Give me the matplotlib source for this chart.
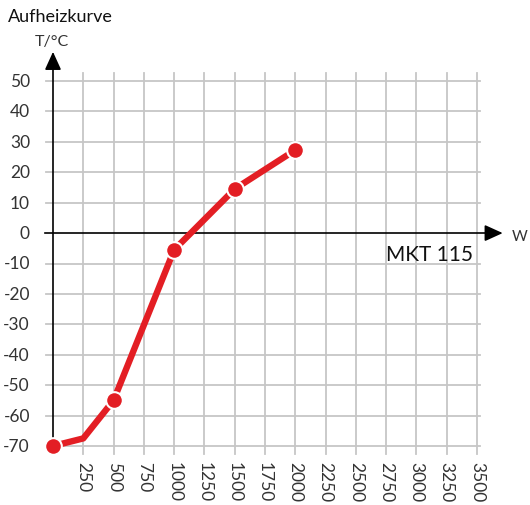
import matplotlib
matplotlib.use("Agg")
import matplotlib.pyplot as plt
import numpy as np

plt.rcParams['font.family'] = ['Lato', 'DejaVu Sans']

# Data
power_w = [0, 250, 500, 1000, 1500, 2000]
temp_c = [-70, -67.5, -55, -5.5, 14.5, 27.3]
marker_w = [0, 500, 1000, 1500, 2000]
marker_c = [-70, -55, -5.5, 14.5, 27.3]
x_ticks = [250, 500, 750, 1000, 1250, 1500, 1750, 2000, 2250, 2500, 2750, 3000, 3250, 3500]
x_labels = ["250", "500", "750", "1000", "1250", "1500", "1750", "2000", "2250", "2500", "2750", "3000", "3250", "3500"]
y_ticks = [50, 40, 30, 20, 10, 0, -10, -20, -30, -40, -50, -60, -70]
y_labels = ["50", "40", "30", "20", "10", "0", "-10", "-20", "-30", "-40", "-50", "-60", "-70"]
title = "Aufheizkurve"
y_title = "T/°C"
x_title = "W"
model = "MKT 115"

W, H = 530, 506
fig = plt.figure(figsize=(W / 100, H / 100), dpi=100)
# axes: x 0..3500 -> px 53..477 ; y -70..50 -> px 447..82
ax = fig.add_axes([53 / W, (H - 447) / H, 424 / W, 365 / H])
ax.set_xlim(0, 3500)
ax.set_ylim(-70, 50)
ax.axis('off')

grid_col = '#c6c6c6'
# horizontal grid
for y in y_ticks:
    if y == 0:
        continue
    ax.plot([-58, 3523], [y, y], color=grid_col, lw=1.3, clip_on=False, zorder=1)
# vertical grid
for x in x_ticks:
    ax.plot([x, x], [52.6, -72.6], color=grid_col, lw=1.3, clip_on=False, zorder=1)

# axes lines with arrows
ax.plot([-62, 3680], [0, 0], color='black', lw=1.2, clip_on=False, zorder=2)
ax.plot([0, 0], [-70, 57], color='black', lw=1.2, clip_on=False, zorder=2)
ax.annotate('', xy=(3735, 0), xytext=(3610, 0),
            arrowprops=dict(arrowstyle='-|>,head_length=1.1,head_width=0.5', color='black', lw=1.2),
            annotation_clip=False, zorder=3)
ax.annotate('', xy=(0, 60.5), xytext=(0, 54),
            arrowprops=dict(arrowstyle='-|>,head_length=1.1,head_width=0.5', color='black', lw=1.2),
            annotation_clip=False, zorder=3)

# data
ax.plot(power_w, temp_c, color='#e31e24', lw=4.6, solid_capstyle='round',
        solid_joinstyle='round', clip_on=False, zorder=4)
ax.plot(marker_w, marker_c, linestyle='none', marker='o', markersize=12,
        markerfacecolor='#e31e24', markeredgecolor='white', markeredgewidth=1.5,
        clip_on=False, zorder=5)

# tick labels
for y, lab in zip(y_ticks, y_labels):
    ax.text(-190, y, lab, ha='right', va='center', fontsize=12.5, color='#333333', clip_on=False)
for x, lab in zip(x_ticks, x_labels):
    ax.text(x, -74.8, lab, ha='center', va='top', rotation=-90, fontsize=12.5,
            color='#333333', clip_on=False)

# texts
fig.text(8 / W, 1 - 17 / H, title, ha='left', va='center', fontsize=13, color='#111111')
fig.text(52 / W, 1 - 42 / H, y_title, ha='center', va='center', fontsize=11.5, color='#333333')
fig.text(512 / W, 1 - 237 / H, x_title, ha='left', va='center', fontsize=11, color='#333333')
fig.text(430 / W, 1 - 255 / H, model, ha='center', va='center', fontsize=15, color='#111111')

fig.savefig('out.png', dpi=100)
